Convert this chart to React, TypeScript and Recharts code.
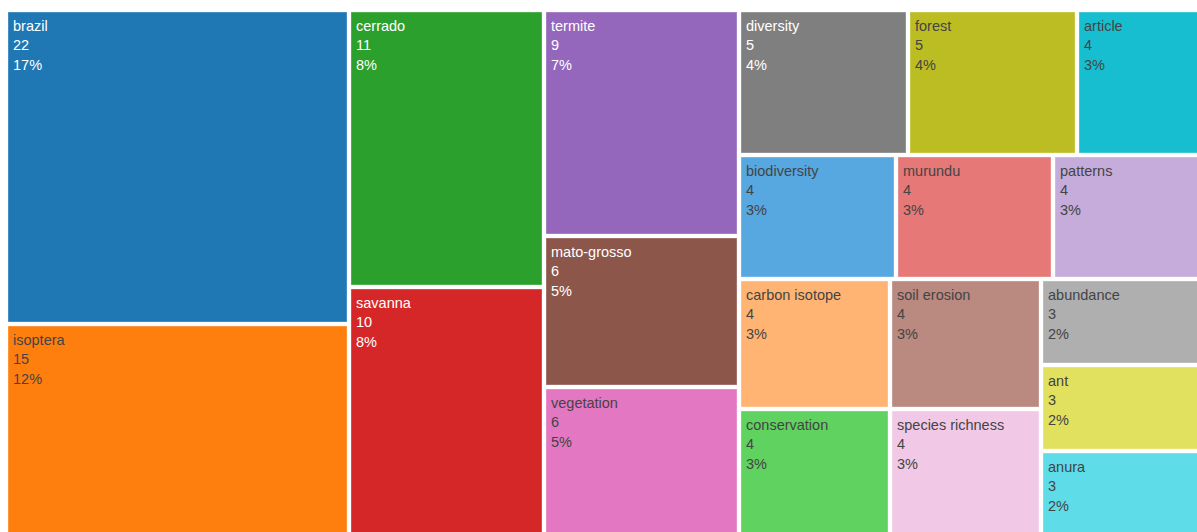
import React from 'react';
import { Treemap } from 'recharts';

// keyword counts (reading order of the tiles)
const keywords = [
  'brazil', 'isoptera', 'cerrado', 'savanna', 'termite', 'mato-grosso', 'vegetation',
  'diversity', 'forest', 'article', 'biodiversity', 'murundu', 'patterns',
  'carbon isotope', 'conservation', 'soil erosion', 'species richness',
  'abundance', 'ant', 'anura',
];
const counts = [22, 15, 11, 10, 9, 6, 6, 5, 5, 4, 4, 4, 4, 4, 4, 4, 4, 3, 3, 3];

const palette = [
  '#1f77b4', '#ff7f0e', '#2ca02c', '#d62728', '#9467bd', '#8c564b', '#e377c2',
  '#7f7f7f', '#bcbd22', '#17becf', '#57a7e0', '#e67878', '#c5acdb',
  '#ffb473', '#5fd25f', '#ba8980', '#f1c9e6', '#afafaf', '#e1e15f', '#5edde9',
];

// how tiles are grouped so the squarify pass lays them out in strips
// (-1 is an empty spacer that makes its siblings stack in one strip)
const groups = [
  [0, 1],
  [2, 3],
  [4, 5, 6],
  [[7, 8, 9], [-1, [10, 11, 12], [[13, 14], [15, 16], [17, 18, 19]]]],
];

const total = counts.reduce((a, b) => a + b, 0);

const build = (g: any): any => {
  if (g === -1) return { name: '', value: 0 };
  if (typeof g === 'number') return { name: keywords[g], value: counts[g], tint: palette[g] };
  return { name: 'group', children: g.map(build) };
};

const data = groups.map(build);

const textColor = (hex: string) => {
  const r = parseInt(hex.slice(1, 3), 16);
  const g = parseInt(hex.slice(3, 5), 16);
  const b = parseInt(hex.slice(5, 7), 16);
  return (r * 299 + g * 587 + b * 114) / 1000 >= 128 ? '#444' : '#fff';
};

const Tile = (props: any) => {
  const { x, y, width, height, children, name, value, tint } = props;
  if ((children && children.length) || !tint || !value) return <g />;
  const fc = textColor(tint);
  const lines = [name, String(value), `${Math.round((value / total) * 100)}%`];
  return (
    <g>
      <rect
        x={x + 2}
        y={y + 2}
        width={Math.max(0, width - 4)}
        height={Math.max(0, height - 4)}
        fill={tint}
        stroke="#fff"
        strokeOpacity={0.35}
        strokeWidth={1}
      />
      {lines.map((t, i) => (
        <text
          key={i}
          x={x + 7}
          y={y + 20.5 + i * 19.6}
          fill={fc}
          fontSize={14.5}
          fontFamily="'Liberation Sans', Arial, sans-serif"
        >
          {t}
        </text>
      ))}
    </g>
  );
};

export default function App() {
  return (
    <div
      style={{
        position: 'fixed',
        left: 0,
        top: 0,
        width: 1197,
        height: 532,
        overflow: 'hidden',
        background: '#fff',
      }}
    >
      <div style={{ position: 'absolute', left: 6, top: 10 }}>
        <Treemap
          width={1205}
          height={528}
          data={data}
          dataKey="value"
          aspectRatio={0.000001}
          isAnimationActive={false}
          content={(p: any) => <Tile {...p} />}
        />
      </div>
    </div>
  );
}
